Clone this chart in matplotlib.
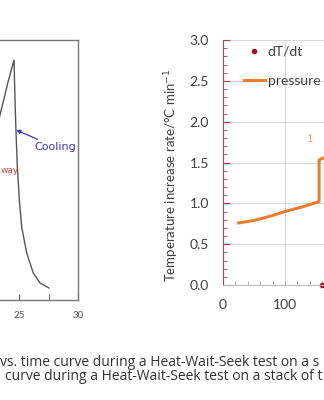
import matplotlib
matplotlib.use('Agg')
import matplotlib.pyplot as plt
import numpy as np

# left panel: temperature vs time (only the right end is visible)
time_min = [22.97, 23.39, 23.64, 24.07, 24.58, 24.66, 24.75, 24.86, 25.03, 25.23, 25.65, 26.21, 26.78, 27.54]
temp = [165, 185, 197, 218, 240, 200, 167, 133, 100, 73, 47, 27, 17, 12]
left_ticks = [25, 30]

# right panel: rate vs temperature
press_x = [25, 50, 75, 100, 125, 155, 155, 160, 170]
press_y = [0.76, 0.79, 0.84, 0.90, 0.95, 1.02, 1.53, 1.55, 1.57]
dtdt_x = [160]
dtdt_y = [0.0]

caption1 = "vs. time curve during a Heat-Wait-Seek test on a s"
caption2 = "curve during a Heat-Wait-Seek test on a stack of t"

W, H = 324, 400
fig = plt.figure(figsize=(W/100, H/100), dpi=100)
plt.rcParams['font.family'] = ['Lato', 'DejaVu Sans']

# ---- left panel
px_unit = 11.8
ax1 = fig.add_axes([(78 - 30*px_unit)/W, 100/H, 30*px_unit/W, 260/H])
ax1.plot(time_min, temp, color='#555555', lw=1.0)
ax1.set_xlim(0, 30)
ax1.set_ylim(0, 260)
for s in ax1.spines.values():
    s.set_color('#777777')
    s.set_linewidth(1.0)
ax1.set_xticks(left_ticks)
ax1.set_xticks([22.5, 27.5], minor=True)
ax1.set_yticks([])
ax1.tick_params(axis='x', which='both', direction='in', length=4, color='#555555',
                labelsize=7, labelcolor='#555555', pad=8)
ax1.annotate('Cooling', xy=(24.76, 170), xytext=(26.3, 153),
             color='#3a3ac8', fontsize=8, va='center', family='DejaVu Sans',
             arrowprops=dict(arrowstyle='-|>', color='#3a3ac8', lw=0.9,
                             mutation_scale=6, shrinkA=0, shrinkB=0))
fig.text(1/W, 1 - 170/H, 'way', color='#e04040', fontsize=6.5,
         ha='left', va='center', family='DejaVu Sans')

# ---- right panel
px_per = 0.62
ax2 = fig.add_axes([223/W, 115/H, 200*px_per/W, 245/H])
ax2.set_xlim(0, 200)
ax2.set_ylim(0, 3.0)
ax2.grid(True, which='major', color='#d9d9d9', lw=0.8)
ax2.set_axisbelow(True)
ax2.set_yticks(np.arange(0, 3.01, 0.5))
ax2.set_yticks(np.arange(0, 3.01, 0.1), minor=True)
ax2.set_xticks([0, 100])
ax2.set_xticks(np.arange(0, 201, 20), minor=True)
ax2.set_yticklabels(['%.1f' % v for v in np.arange(0, 3.01, 0.5)])
ax2.spines['top'].set_visible(False)
ax2.spines['right'].set_visible(False)
ax2.spines['left'].set_color('#b0404e')
ax2.spines['bottom'].set_color('#bbbbbb')
ax2.tick_params(axis='y', which='major', direction='in', length=5, color='#b0404e',
                labelsize=10, labelcolor='#404040', pad=10)
ax2.tick_params(axis='y', which='minor', direction='in', length=3, color='#b0404e')
ax2.tick_params(axis='x', which='both', direction='in', length=3, color='#aaaaaa',
                labelsize=10, labelcolor='#404040', pad=10)
ax2.plot(dtdt_x, dtdt_y, 'o', color='#a01028', ms=3, clip_on=False, label='dT/dt')
ax2.plot(press_x, press_y, '-', color='#ed7d31', lw=2.2, label='pressure')
ax2.text(139, 1.79, '1', color='#f0a060', fontsize=8, ha='center', va='center')
ax2.set_ylabel('Temperature increase rate/\u00b0C min$^{-1}$', fontsize=9.5,
               color='#404040', labelpad=6)
ax2.yaxis.label.set_position((0, 110/245))
ax2.legend(loc='upper left', bbox_to_anchor=(244/W, 1 - 46/H), bbox_transform=fig.transFigure,
           frameon=False, fontsize=10, handlelength=1.5, handletextpad=0.2,
           labelspacing=1.2, borderpad=0, borderaxespad=0, labelcolor='#404040')

fig.text(0/W, 1 - 362/H, caption1, fontsize=10, color='#333333', va='center', ha='left',
         family='Open Sans')
fig.text(5/W, 1 - 376/H, caption2, fontsize=10, color='#333333', va='center', ha='left',
         family='Open Sans')

fig.savefig('out.png', dpi=100)
